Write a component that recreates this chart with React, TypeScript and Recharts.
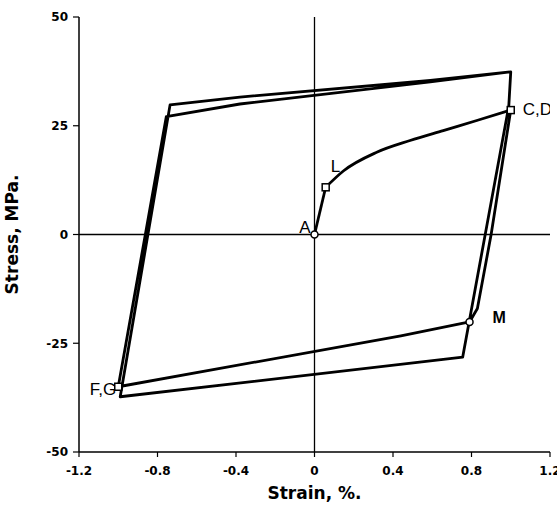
import React from 'react';
import { ComposedChart, Scatter, XAxis, YAxis, ReferenceLine } from 'recharts';

// Elastic loading A -> L
const elasticStrain = [0, 0.057];
const elasticStress = [0, 10.85];

// Plastic loading L -> C,D (smooth curve)
const hardeningStrain = [0.057, 0.147, 0.317, 0.487, 0.656, 0.827, 1.0];
const hardeningStress = [10.85, 14.6, 18.9, 21.6, 23.9, 26.2, 28.6];

// Cycling from C,D, in drawing order
const loopStrain = [1.0, 0.9, 0.83, 0.79, 0.44, -1.0, -0.755, -0.38, 0.59, 1.0, 0.99, 0.755, -0.99, -0.736, -0.38, 0.59, 1.0];
const loopStress = [28.6, 0, -17, -20.1, -23.3, -35, 27.1, 30.0, 35.1, 37.4, 29.5, -28.2, -37.3, 29.8, 31.6, 35.4, 37.4];

// Labelled points
const markerNames = ['A', 'L', 'C,D', 'M', 'F,G'];
const markerStrain = [0, 0.057, 1.0, 0.79, -1.0];
const markerStress = [0, 10.85, 28.6, -20.1, -35];

const xTicks = [-1.2, -0.8, -0.4, 0, 0.4, 0.8, 1.2];
const yTicks = [-50, -25, 0, 25, 50];

const toPoints = (xs: number[], ys: number[]) => xs.map((x, i) => ({ x, y: ys[i] }));
const elasticData = toPoints(elasticStrain, elasticStress);
const hardeningData = toPoints(hardeningStrain, hardeningStress);
const loopData = toPoints(loopStrain, loopStress);
const markerData = markerNames.map((name, i) => ({ name, x: markerStrain[i], y: markerStress[i] }));

const markerStyle: Record<string, { shape: string; dx: number; dy: number; anchor: string; weight: string; size: number }> = {
  A: { shape: 'circle', dx: -4, dy: -2, anchor: 'end', weight: 'normal', size: 17 },
  L: { shape: 'square', dx: 5, dy: -15, anchor: 'start', weight: 'normal', size: 17 },
  'C,D': { shape: 'square', dx: 12, dy: 5, anchor: 'start', weight: 'normal', size: 17 },
  M: { shape: 'circle', dx: 23, dy: 1, anchor: 'start', weight: 'bold', size: 16 },
  'F,G': { shape: 'square', dx: -2, dy: 8, anchor: 'end', weight: 'normal', size: 17 },
};

const MarkerShape = (props: any) => {
  const { cx, cy, payload } = props;
  if (cx == null || cy == null) return <g />;
  const s = markerStyle[payload.name];
  return (
    <g>
      {s.shape === 'circle' ? (
        <circle cx={cx} cy={cy} r={3.5} fill="#fff" stroke="#000" strokeWidth={1.5} />
      ) : (
        <rect x={cx - 3.5} y={cy - 3.5} width={7} height={7} fill="#fff" stroke="#000" strokeWidth={1.5} />
      )}
      <text
        x={cx + s.dx}
        y={cy + s.dy}
        textAnchor={s.anchor as any}
        fontFamily="Liberation Sans, Arial, sans-serif"
        fontSize={s.size}
        fontWeight={s.weight}
        fill="#000"
      >
        {payload.name}
      </text>
    </g>
  );
};

const tickStyle = { fill: '#000', fontSize: 12, fontWeight: 'bold', fontFamily: 'DejaVu Sans, sans-serif' } as any;
const titleStyle = { fill: '#000', fontSize: 17, fontWeight: 'bold', fontFamily: 'DejaVu Sans, sans-serif', textAnchor: 'middle' } as any;
const lineStyle = { stroke: '#000', strokeWidth: 2.8, strokeLinejoin: 'round', fill: 'none' } as any;

export default function App() {
  return (
    <div style={{ position: 'absolute', left: 0, top: 0, width: 557, height: 506, background: '#fff' }}>
      <ComposedChart width={557} height={506} margin={{ top: 17, right: 7, bottom: 24, left: 0 }}>
        <XAxis
          type="number"
          dataKey="x"
          domain={[-1.2, 1.2]}
          ticks={xTicks}
          interval={0}
          allowDataOverflow
          tick={tickStyle}
          tickFormatter={(v: number) => String(v)}
          tickLine={{ stroke: '#000', strokeWidth: 1.2 }}
          axisLine={{ stroke: '#000', strokeWidth: 1.5 }}
          tickSize={5}
          tickMargin={9}
          height={30}
          label={{ value: 'Strain, %.', position: 'bottom', offset: 5, style: titleStyle }}
        />
        <YAxis
          type="number"
          dataKey="y"
          domain={[-50, 50]}
          ticks={yTicks}
          interval={0}
          allowDataOverflow
          tick={tickStyle}
          tickLine={{ stroke: '#000', strokeWidth: 1.2 }}
          axisLine={{ stroke: '#000', strokeWidth: 1.5 }}
          tickSize={6}
          tickMargin={5}
          width={79}
          label={{ value: 'Stress, MPa.', angle: -90, position: 'insideLeft', offset: 12, style: titleStyle }}
        />
        <ReferenceLine x={0} stroke="#000" strokeWidth={1.3} />
        <ReferenceLine y={0} stroke="#000" strokeWidth={1.3} />
        <Scatter data={elasticData} line={lineStyle} lineType="joint" shape={() => <g />} isAnimationActive={false} />
        <Scatter
          data={hardeningData}
          line={lineStyle}
          lineType="joint"
          lineJointType="monotoneX"
          shape={() => <g />}
          isAnimationActive={false}
        />
        <Scatter data={loopData} line={lineStyle} lineType="joint" shape={() => <g />} isAnimationActive={false} />
        <Scatter data={markerData} shape={MarkerShape} isAnimationActive={false} />
      </ComposedChart>
    </div>
  );
}
